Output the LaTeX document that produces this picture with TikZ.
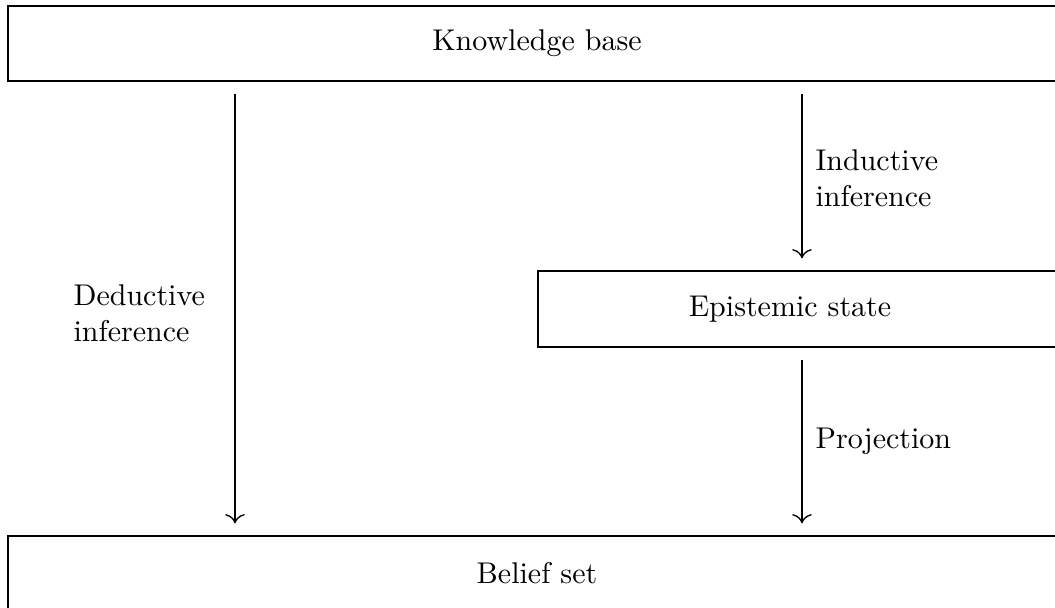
\documentclass[tikz,border=0pt]{standalone}
\usetikzlibrary{calc,arrows.meta}
\begin{document}
\begin{tikzpicture}[x=0.3333pt,y=-0.3333pt,
  box/.style={draw, line width=0.4pt, rectangle, inner sep=0pt},
  arr/.style={-{To[scale=1.2]}, line width=0.45pt, shorten >=4pt, shorten <=4pt},
  lab/.style={align=left, anchor=west, inner sep=0pt}]
\useasboundingbox (0,0) rectangle (1055,608);
\clip (0,0) rectangle (1055,608);
\node[box, minimum width=352.67pt, minimum height=25pt] (kb) at (537,43.5) {Knowledge base};
\node[box, minimum width=190pt, minimum height=25.33pt] (es) at (823,309) {};
\node (est) at (790,309) {Epistemic state};
\node[box, minimum width=352.67pt, minimum height=25pt] (bs) at (537,573.5) {Belief set};
\coordinate (dl) at (235,0);
\coordinate (dr) at (802,0);
\draw[arr] (kb.south -| dl) -- (bs.north -| dl);
\draw[arr] (kb.south -| dr) -- (es.north -| dr);
\draw[arr] (es.south -| dr) -- (bs.north -| dr);
\node[lab] (ded) at (73,313) {Deductive\\inference};
\node[lab] (ind) at (815,178) {Inductive\\inference};
\node[lab] (proj) at (815,441) {Projection};
\end{tikzpicture}
\end{document}
